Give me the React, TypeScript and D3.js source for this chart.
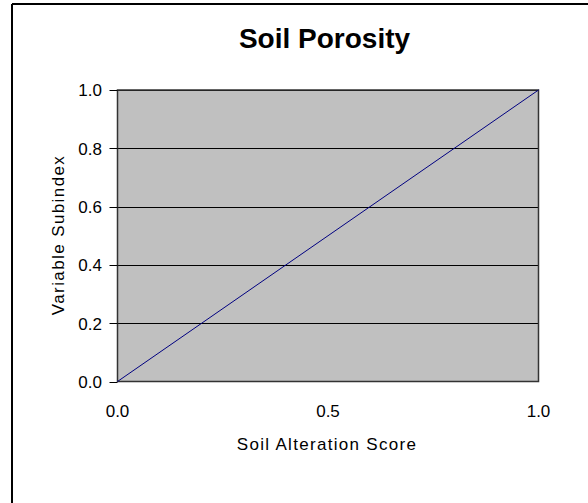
import React from "react";
import * as d3 from "d3";

const title = "Soil Porosity";
const xTitle = "Soil Alteration Score";
const yTitle = "Variable Subindex";
const xValues = [0, 1];
const yValues = [0, 1];
const xTicks = [0, 0.5, 1];
const yTicks = [0, 0.2, 0.4, 0.6, 0.8, 1.0];

export default function App() {
  const W = 588, H = 503;
  const left = 117.5, right = 538.5, top = 90, bottom = 381.5;
  const x = d3.scaleLinear().domain([0, 1]).range([left, right]);
  const y = d3.scaleLinear().domain([0, 1]).range([bottom, top]);
  const pts = xValues.map((v, i) => [v, yValues[i]] as [number, number]);
  const line = d3.line<[number, number]>().x(d => x(d[0])).y(d => y(d[1]));
  const font = "Arial, 'Liberation Sans', sans-serif";
  return (
    <svg width={W} height={H} style={{ position: "absolute", left: 0, top: 0 }} fontFamily={font}>
      <rect x={0} y={0} width={W} height={H} fill="#fff" />
      <line x1={12} y1={4} x2={W} y2={4} stroke="#000" strokeWidth={2} />
      <line x1={12} y1={4} x2={12} y2={H} stroke="#000" strokeWidth={2} />
      <text x={324.5} y={48} textAnchor="middle" fontSize={28} fontWeight="bold" fill="#000">{title}</text>
      <rect x={left} y={top} width={right - left} height={bottom - top} fill="#c0c0c0" />
      {yTicks.filter(t => t > 0).map(t => (
        <line key={t} x1={left} x2={right} y1={Math.round(y(t)) + 0.5} y2={Math.round(y(t)) + 0.5} stroke="#000" strokeWidth={1} />
      ))}
      <rect x={left} y={top} width={right - left} height={bottom - top} fill="none" stroke="#333" strokeWidth={1.5} />
      {yTicks.map(t => (
        <g key={t}>
          <line x1={left - 8} x2={left} y1={Math.round(y(t)) + 0.5} y2={Math.round(y(t)) + 0.5} stroke="#000" />
          <text x={102} y={y(t) + 6.3} textAnchor="end" fontSize={17} fill="#000">{d3.format(".1f")(t)}</text>
        </g>
      ))}
      {xTicks.map(t => (
        <text key={t} x={x(t)} y={417} textAnchor="middle" fontSize={17} fill="#000">{d3.format(".1f")(t)}</text>
      ))}
      <path d={line(pts) || ""} fill="none" stroke="#000080" strokeWidth={1} />
      <text x={327} y={450} textAnchor="middle" fontSize={17} letterSpacing={1.3} fill="#000">{xTitle}</text>
      <text transform={`translate(64,235) rotate(-90)`} textAnchor="middle" fontSize={17} letterSpacing={1.4} fill="#000">{yTitle}</text>
    </svg>
  );
}
